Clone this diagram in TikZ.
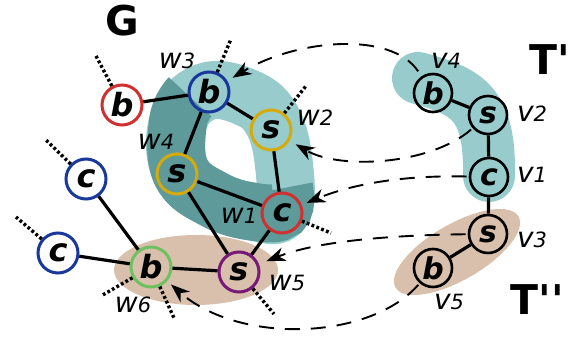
\documentclass[tikz,border=0pt]{standalone}
\usepackage{fontspec}
\setmainfont{DejaVu Sans}
\newfontfamily\titlefont{DejaVu Sans}[Ligatures=TeXOff]
\usetikzlibrary{arrows.meta}

\definecolor{ringlight}{RGB}{152,204,204}
\definecolor{ringdark}{RGB}{94,154,154}
\definecolor{tanfill}{RGB}{216,192,172}
\definecolor{cred}{RGB}{208,48,48}
\definecolor{cblue}{RGB}{24,56,156}
\definecolor{cyellow}{RGB}{214,170,10}
\definecolor{cgreen}{RGB}{110,192,96}
\definecolor{cpurple}{RGB}{120,24,120}

\newcommand\wlab[1]{w{\fontsize{21}{21}\selectfont #1}}
\newcommand\vlab[1]{v{\fontsize{21}{21}\selectfont #1}}

\tikzset{
  gnode/.style={circle, draw=#1, line width=3pt, minimum size=40pt, inner sep=0pt,
    font=\fontsize{32}{32}\selectfont\bfseries\itshape},
  tnode/.style={circle, draw=black, line width=2.6pt, minimum size=38pt, inner sep=0pt,
    font=\fontsize{30}{30}\selectfont\bfseries\itshape},
  edge/.style={line width=3.2pt},
  stub/.style={line width=3.4pt, dash pattern=on 2.8pt off 2.4pt},
  link/.style={line width=1.9pt, dash pattern=on 15pt off 11pt,
    -{Stealth[length=19pt,width=14pt,inset=6pt]}},
  wl/.style={font=\fontsize{28}{28}\selectfont\itshape},
  title/.style={font=\fontsize{41}{41}\titlefont\bfseries},
}

\begin{document}
\begin{tikzpicture}[x=1pt,y=-1pt]
\useasboundingbox (0,0) rectangle (579,339);

% ring around the matched part of G: light all round, darker on the left and bottom
\draw[ringlight, line width=58pt, line join=round]
  plot[smooth cycle, tension=0.7] coordinates {(205,92) (245,97) (272,120) (284,165) (282,210) (255,212) (215,200) (181,172) (178,122)};
\draw[ringdark, line width=58pt]
  plot[smooth, tension=0.7] coordinates {(190,97) (178,122) (181,172) (215,200) (255,212) (282,210) (284,188)};

\fill[tanfill] (196,270) ellipse [x radius=82pt, y radius=35pt];

% bands around the two trees
\draw[ringlight, line width=52pt, line cap=round]
  (418,78) .. controls (470,92) and (490,105) .. (489,176);
\fill[tanfill, rotate around={30:(457,252)}] (457,252) ellipse [x radius=71pt, y radius=28pt];

% graph G
\node[gnode=cred]    (rb) at (122,105) {b};
\node[gnode=cblue]   (w3) at (209,92)  {b};
\node[gnode=cyellow] (w2) at (271,130) {s};
\node[gnode=cyellow] (w4) at (177,174) {s};
\node[gnode=cred]    (w1) at (282,213) {c};
\node[gnode=cblue]   (ct) at (86,179)  {c};
\node[gnode=cblue]   (cb) at (58,253)  {c};
\node[gnode=cgreen]  (w6) at (151,267) {b};
\node[gnode=cpurple] (w5) at (239,272) {s};

\draw[edge] (rb) -- (w3);
\draw[edge] (w3) -- (w2);
\draw[edge] (w3) -- (w4);
\draw[edge] (w2) -- (w1);
\draw[edge] (w4) -- (w1);
\draw[edge] (w4) -- (w5);
\draw[edge] (w1) -- (w5);
\draw[edge] (ct) -- (w6);
\draw[edge] (cb) -- (w6);
\draw[edge] (w6) -- (w5);

% dotted stubs to the rest of G
\coordinate (s1) at (96,56);
\coordinate (s2) at (231,39);
\coordinate (s3) at (306,86);
\coordinate (s4) at (46,140);
\coordinate (s5) at (16,217);
\coordinate (s6) at (101,296);
\coordinate (s7) at (174,318);
\coordinate (s8) at (274,314);
\coordinate (s9) at (331,233);
\draw[stub] (rb) -- (s1);
\draw[stub] (w3) -- (s2);
\draw[stub] (w2) -- (s3);
\draw[stub] (ct) -- (s4);
\draw[stub] (cb) -- (s5);
\draw[stub] (w6) -- (s6);
\draw[stub] (w6) -- (s7);
\draw[stub] (w5) -- (s8);
\draw[stub] (w1) -- (s9);

% trees T' and T''
\node[tnode] (v4) at (433,93)  {b};
\node[tnode] (v2) at (488,115) {s};
\node[tnode] (v1) at (489,177) {c};
\node[tnode] (v3) at (488,234) {s};
\node[tnode] (v5) at (433,268) {b};
\draw[edge] (v4) -- (v2);
\draw[edge] (v2) -- (v1);
\draw[edge] (v1) -- (v3);
\draw[edge] (v3) -- (v5);

% mappings from the trees into G
\draw[link, shorten <=6pt, shorten >=6pt] (v4) .. controls (390,30) and (295,40) .. (w3);
\draw[link, shorten <=2pt, shorten >=7pt] (v2) .. controls (430,165) and (340,170) .. (w2);
\draw[link, shorten <=2pt, shorten >=5pt] (v1) .. controls (400,175) and (350,185) .. (w1);
\draw[link, shorten <=2pt, shorten >=8pt] (v3) .. controls (400,235) and (320,240) .. (w5);
\draw[link, shorten <=2pt, shorten >=5pt] (v5) .. controls (370,340) and (240,345) .. (w6);

% labels
\node[wl] (lw3) at (177,61)  {\wlab{3}};
\node[wl] (lw2) at (315,118) {\wlab{2}};
\node[wl] (lw4) at (156,142) {\wlab{4}};
\node[wl] (lw1) at (239,216) {\wlab{1}};
\node[wl] (lw5) at (287,283) {\wlab{5}};
\node[wl] (lw6) at (133,305) {\wlab{6}};
\node[wl] (lv4) at (446,61)  {\vlab{4}};
\node[wl] (lv2) at (532,114) {\vlab{2}};
\node[wl] (lv1) at (532,175) {\vlab{1}};
\node[wl] (lv3) at (532,240) {\vlab{3}};
\node[wl] (lv5) at (449,302) {\vlab{5}};

\node[title] (tg)  at (122,21) {G};
\node[title, anchor=west] (tt1) at (526,60)  {T'};
\node[title, anchor=west] (tt2) at (507,300) {T''};
\end{tikzpicture}
\end{document}
